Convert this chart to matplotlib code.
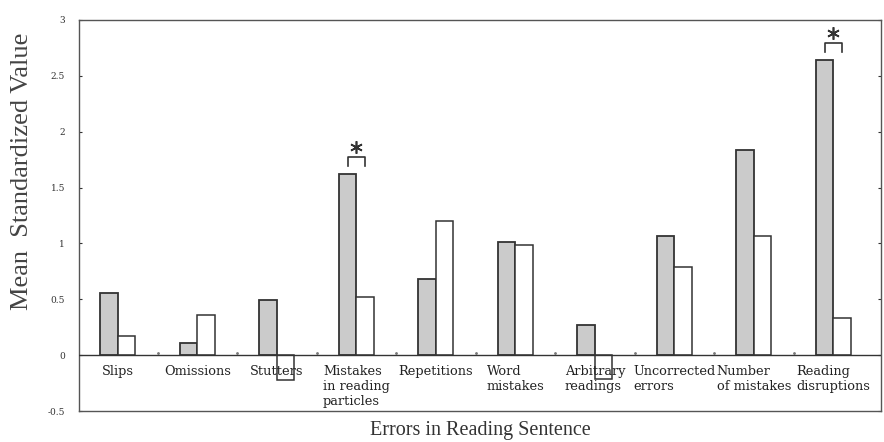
import numpy as np
import matplotlib
matplotlib.use('Agg')
from matplotlib import pyplot as plt

categories = ['Slips', 'Omissions', 'Stutters', 'Mistakes\nin reading\nparticles',
              'Repetitions', 'Word\nmistakes', 'Arbitrary\nreadings',
              'Uncorrected\nerrors', 'Number\nof mistakes', 'Reading\ndisruptions']
group_a = [0.56, 0.105, 0.49, 1.62, 0.68, 1.01, 0.27, 1.07, 1.84, 2.64]   # shaded bars
group_b = [0.17, 0.36, -0.22, 0.52, 1.20, 0.99, -0.215, 0.785, 1.07, 0.337]  # open bars
significant = [3, 9]
yticks = [-0.5, 0, 0.5, 1, 1.5, 2, 2.5, 3]
ytick_labels = ['-0.5', '0', '0.5', '1', '1.5', '2', '2.5', '3']

plt.rcParams['font.family'] = ['DejaVu Serif']
ink = '#333333'

fig = plt.figure(figsize=(8.84, 4.42), dpi=100)
ax = fig.add_axes([0.0894, 0.0701, 0.9072, 0.8847])

x = np.arange(len(categories))
w = 0.22
ax.bar(x - w / 2, group_a, w, color='#cbcbcb', edgecolor=ink, linewidth=1.3, zorder=2)
ax.bar(x + w / 2, group_b, w, color='white', edgecolor=ink, linewidth=1.1, zorder=2)

ax.axhline(0, color=ink, linewidth=1.0, zorder=3)
# small boundary ticks on the zero line
ax.plot(x[:-1] + 0.5, np.zeros(len(x) - 1) + 0.015, ls='none', marker='.',
        ms=2, color='#777777')

# category labels sit inside the plot just below zero
for i, name in enumerate(categories):
    ax.text(i, -0.09, name, ha='center', va='top', multialignment='left',
            fontsize=9.3, color='#222222', linespacing=1.2, zorder=4)

# significance brackets
for i in significant:
    top = group_a[i] + 0.15
    ax.plot([i - w / 2, i - w / 2, i + w / 2, i + w / 2],
            [top - 0.08, top, top, top - 0.08], color=ink, linewidth=1.2)
    ax.plot(i, top + 0.09, marker=(6, 2, 0), ms=9, mew=1.2, color=ink)

ax.set_xlim(-0.49, 9.6)
ax.set_ylim(-0.5, 3)
ax.set_xticks([])
ax.set_yticks(yticks)
ax.set_yticklabels(ytick_labels, fontsize=6.5, color='#333333')
ax.tick_params(axis='y', direction='in', length=2, width=0.8, pad=10,
               right=True, colors=ink)
for s in ax.spines.values():
    s.set_color('#555555')
    s.set_linewidth(1.0)

fig.text(0.025, 0.613, 'Mean  Standardized Value', rotation=90, ha='center',
         va='center', fontsize=19, color='#444444', family='Liberation Serif')
fig.text(0.543, 0.025, 'Errors in Reading Sentence', ha='center', va='center',
         fontsize=14.5, color='#333333', family='Liberation Serif')

fig.savefig('out.png', dpi=100, facecolor='white')
